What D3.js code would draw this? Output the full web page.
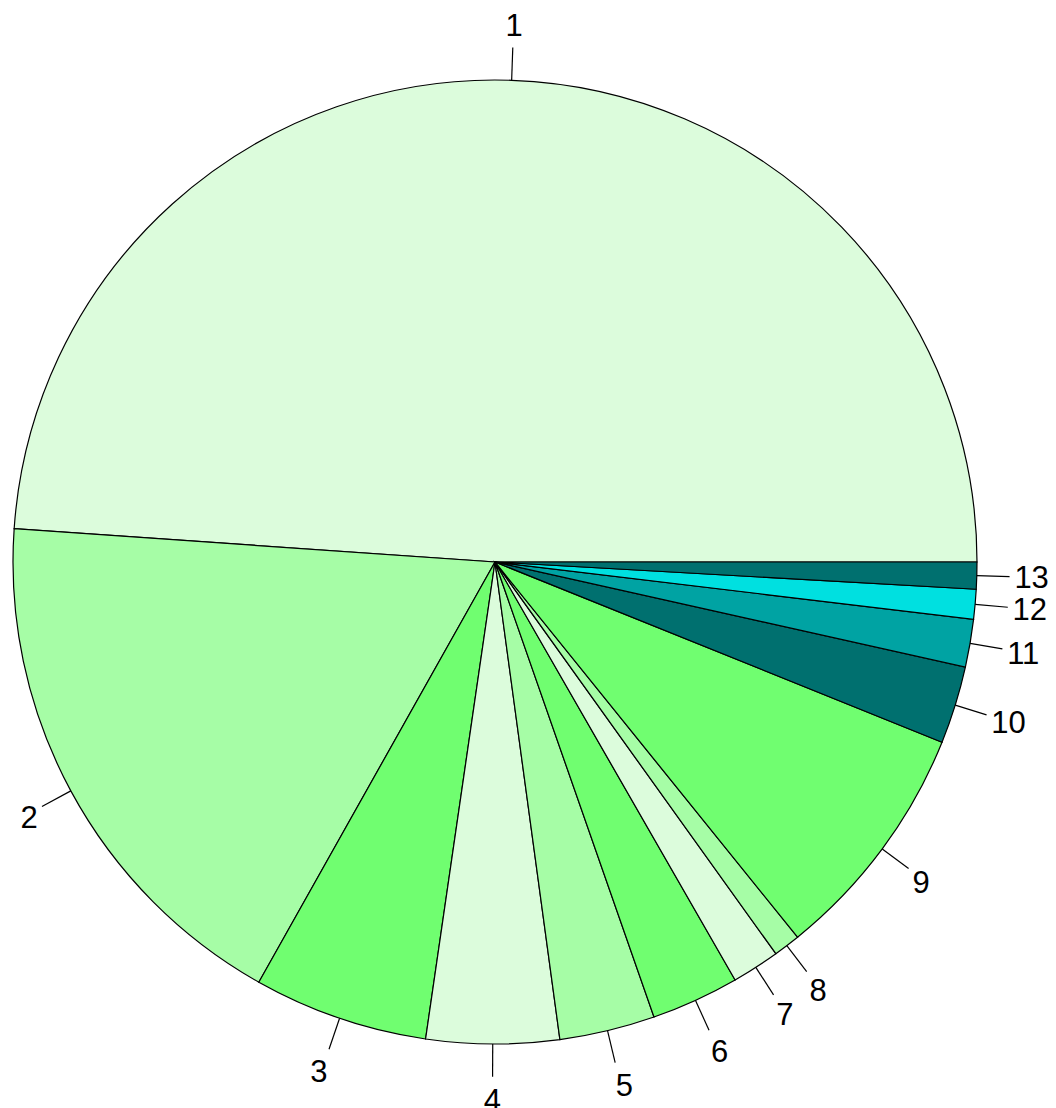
<!DOCTYPE html>
<html>
<head>
<script src="https://d3js.org/d3.v7.min.js"></script>
<style>
body { margin: 0; background: white; }
text { font-family: "Liberation Sans", Arial, sans-serif; }
</style>
</head>
<body>
<svg width="1056" height="1108"></svg>
<script>
var labels = ['1','2','3','4','5','6','7','8','9','10','11','12','13'];
var values = [48.9, 17.95, 5.85, 4.45, 3.2, 2.95, 1.6, 0.9, 8.1, 2.6, 1.6, 1.0, 0.9];
var colors = ['#DCFCDC','#A6FDA6','#70FE70','#DCFCDC','#A6FDA6','#70FE70','#DCFCDC','#A6FDA6','#70FE70','#00706F','#00A3A3','#00E0E0','#00706F'];

var cx = 495, cy = 562, r = 482;
var svg = d3.select('svg');
var g = svg.append('g').attr('transform', 'translate(' + cx + ',' + cy + ')');

var total = d3.sum(values);
// R style: start at 3 o'clock, go counterclockwise
var ang = d3.scaleLinear().domain([0, total]).range([Math.PI / 2, Math.PI / 2 - 2 * Math.PI]);
var cum = d3.cumsum(values);
var slices = values.map(function(v, i) {
  return { i: i, start: ang(cum[i] - v), end: ang(cum[i]) };
});

var arc = d3.arc().innerRadius(0).outerRadius(r);
g.selectAll('path').data(slices).enter().append('path')
  .attr('d', function(d) { return arc({ startAngle: d.end, endAngle: d.start }); })
  .attr('fill', function(d) { return colors[d.i]; })
  .attr('stroke', 'black')
  .attr('stroke-width', 1.2);

slices.forEach(function(d) {
  var mid = (d.start + d.end) / 2;
  var ux = Math.sin(mid), uy = -Math.cos(mid);
  g.append('line')
    .attr('x1', ux * r).attr('y1', uy * r)
    .attr('x2', ux * r * 1.068).attr('y2', uy * r * 1.068)
    .attr('stroke', 'black').attr('stroke-width', 1.2);
  var t = g.append('text')
    .attr('y', uy * r * 1.115)
    .attr('dy', '0.36em')
    .attr('font-size', 31)
    .text(labels[d.i]);
  // labels near the vertical axis sit almost centred
  var hj = 0.5 - 0.5 * Math.sign(ux) * Math.min(1, Math.abs(ux) * 4);
  var w = t.node().getComputedTextLength();
  t.attr('x', ux * r * 1.078 - hj * w);
});
</script>
</body>
</html>
